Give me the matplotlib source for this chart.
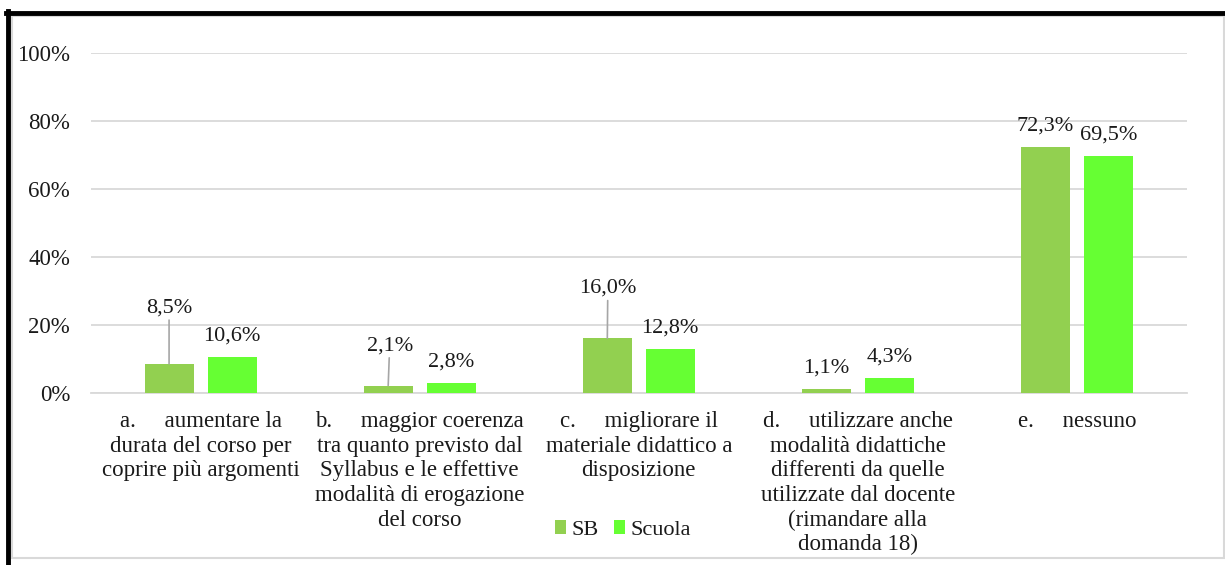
import matplotlib
matplotlib.use("Agg")
import matplotlib.pyplot as plt
from matplotlib.patches import Rectangle
from matplotlib.lines import Line2D
from matplotlib.ticker import FuncFormatter
import numpy as np

# ---- data ----
categories = [
    "a.     aumentare la\ndurata del corso per\ncoprire più argomenti",
    "b.     maggior coerenza\ntra quanto previsto dal\nSyllabus e le effettive\nmodalità di erogazione\ndel corso",
    "c.     migliorare il\nmateriale didattico a\ndisposizione",
    "d.     utilizzare anche\nmodalità didattiche\ndifferenti da quelle\nutilizzate dal docente\n(rimandare alla\ndomanda 18)",
    "e.     nessuno",
]
sb_values = [8.5, 2.1, 16.0, 1.1, 72.3]
scuola_values = [10.6, 2.8, 12.8, 4.3, 69.5]
series_names = ["SB", "Scuola"]
y_ticks = [0, 20, 40, 60, 80, 100]

# ---- styles / positions ----
col_sb = "#92D050"
col_scuola = "#66FF33"
grid_col = "#d9d9d9"
text_col = "#1a1a1a"
# label offsets in pixels (dx, dy) from bar top centre
sb_label_off = [(0, 56), (1.5, 40), (0.5, 50), (0, 21), (0, 21)]
scuola_label_off = [(0, 21)] * 5
sb_leader = [True, True, True, False, False]

plt.rcParams["font.family"] = ["Liberation Serif", "DejaVu Serif"]

W, H = 1225, 565
fig = plt.figure(figsize=(W / 100, H / 100), dpi=100)
fig.patch.set_facecolor("white")

ax = fig.add_axes([91 / W, (H - 392.7) / H, (1186.6 - 91) / W, (392.7 - 52.7) / H])
ax.set_facecolor("white")

x = np.arange(len(categories))
bw = 0.2236
off = 0.1437
b1 = ax.bar(x - off, sb_values, bw, color=col_sb, label=series_names[0], zorder=3)
b2 = ax.bar(x + off, scuola_values, bw, color=col_scuola, label=series_names[1], zorder=3)

ax.set_xlim(-0.5, len(categories) - 0.5)
ax.set_ylim(0, 100)
ax.set_yticks(y_ticks)
ax.yaxis.set_major_formatter(FuncFormatter(lambda v, p: f"{int(v)}%"))
ax.grid(axis="y", color=grid_col, lw=1.3, zorder=0)
ax.set_axisbelow(True)
for s in ["top", "right", "left"]:
    ax.spines[s].set_visible(False)
ax.spines["bottom"].set_color(grid_col)
ax.spines["bottom"].set_linewidth(1.3)
ax.tick_params(axis="y", length=0, pad=15, labelsize=16.5, labelcolor=text_col)
ax.tick_params(axis="x", length=0, pad=13.5, labelsize=16.5, labelcolor=text_col)
ax.set_xticks(x)
ax.set_xticklabels(categories, linespacing=1.22)


def fmt(v):
    return f"{v:.1f}%".replace(".", ",")


for i, v in enumerate(sb_values):
    dx, dy = sb_label_off[i]
    kw = {}
    if sb_leader[i]:
        kw["arrowprops"] = dict(arrowstyle="-", color="#a6a6a6", lw=1.2,
                                shrinkA=0, shrinkB=0)
    ax.annotate(fmt(v), xy=(x[i] - off, v), xytext=(dx, dy),
                textcoords="offset pixels", ha="center", va="center",
                fontsize=16, color=text_col, zorder=5, **kw)
for i, v in enumerate(scuola_values):
    dx, dy = scuola_label_off[i]
    ax.annotate(fmt(v), xy=(x[i] + off, v), xytext=(dx, dy),
                textcoords="offset pixels", ha="center", va="center",
                fontsize=16, color=text_col, zorder=5)

leg = fig.legend(handles=[b1, b2], labels=series_names, loc="center",
                 bbox_to_anchor=(623 / W, (H - 530) / H), ncol=2, frameon=False,
                 fontsize=16, handlelength=0.5, handleheight=0.6,
                 handletextpad=0.25, columnspacing=0.7, labelcolor=text_col)

# chart frame decorations
fig.add_artist(Rectangle((12 / W, (H - 558) / H), (1224 - 12) / W, (558 - 16) / H,
                         transform=fig.transFigure, fill=False, ec=grid_col, lw=1.5))
fig.add_artist(Line2D([8 / W, 8 / W], [0, (H - 11) / H], transform=fig.transFigure,
                      color="black", lw=3.5))
fig.add_artist(Line2D([6 / W, 1], [(H - 13) / H, (H - 13) / H], transform=fig.transFigure,
                      color="black", lw=3.5))

fig.savefig("out.png", dpi=100)
